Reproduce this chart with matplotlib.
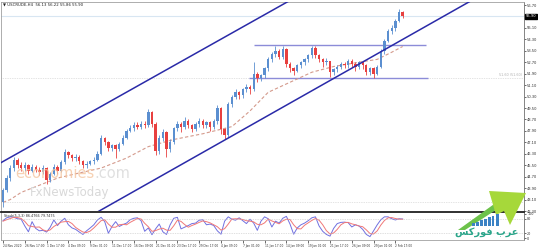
import numpy as np
import matplotlib
matplotlib.use("Agg")
import matplotlib.pyplot as plt
from matplotlib.patches import Polygon, Rectangle

# USCRUDE H4 candles (one candle here ~ 2.7 bars of the original)
opens = [42.9, 43.8, 44.6, 45.3, 45.9, 45.5, 45.3, 45.5, 45.1, 45.4,
         45.2, 45.0, 45.3, 44.5, 44.9, 45.4, 45.1, 45.7, 46.4, 46.2,
         46.0, 46.1, 45.8, 45.5, 45.6, 45.8, 45.9, 46.3, 47.4, 47.1,
         46.7, 46.9, 46.6, 47.0, 47.4, 47.9, 48.1, 48.3, 48.2, 48.4,
         48.3, 49.2, 48.4, 46.5, 47.4, 47.8, 46.6, 47.1, 48.1, 48.4,
         48.2, 48.6, 48.3, 48.0, 48.4, 48.6, 48.3, 48.5, 48.2, 48.6,
         49.5, 48.0, 47.6, 49.8, 50.3, 50.6, 50.4, 50.8, 51.0, 50.8,
         51.9, 51.6, 51.8, 52.3, 52.9, 53.3, 53.5, 53.1, 53.6, 52.6,
         52.3, 52.1, 52.5, 52.7, 52.9, 53.2, 53.7, 53.2, 52.9, 52.7,
         52.8, 52.0, 52.2, 52.4, 52.6, 52.5, 52.8, 52.6, 52.4, 52.7,
         52.5, 52.0, 52.3, 51.9, 52.4, 53.5, 54.2, 54.9, 55.1, 55.6, 56.2]
highs = [43.9, 44.8, 45.5, 46.1, 46.0, 45.7, 45.7, 45.6, 45.6, 45.5,
         45.4, 45.5, 45.4, 45.0, 45.6, 45.5, 45.9, 46.6, 46.5, 46.3,
         46.3, 46.2, 45.9, 45.8, 45.9, 46.1, 46.5, 47.6, 47.5, 47.2,
         47.0, 47.0, 47.1, 47.6, 48.0, 48.3, 48.5, 48.5, 48.6, 48.6,
         49.4, 49.3, 48.5, 47.6, 48.0, 47.9, 47.3, 48.2, 48.6, 48.5,
         48.9, 48.7, 48.4, 48.5, 48.8, 48.7, 48.6, 48.6, 48.7, 49.7,
         49.6, 48.1, 49.9, 50.4, 50.8, 50.7, 50.9, 51.2, 51.1, 52.7,
         52.0, 51.9, 52.4, 53.1, 53.4, 53.8, 53.6, 53.8, 53.7, 52.7,
         52.4, 52.6, 52.8, 53.0, 53.3, 53.8, 53.8, 53.3, 53.0, 53.0,
         52.8, 52.3, 52.5, 52.7, 52.7, 52.9, 52.9, 52.7, 52.8, 52.8,
         52.6, 52.4, 52.4, 52.5, 53.6, 54.3, 55.0, 55.3, 55.7, 56.4, 56.3]
lows = [42.6, 43.6, 44.4, 45.1, 45.3, 45.1, 45.1, 44.9, 45.0, 45.0,
        44.8, 44.9, 44.2, 44.3, 44.8, 44.9, 45.0, 45.6, 46.0, 45.8,
        45.8, 45.6, 45.3, 45.3, 45.5, 45.6, 45.8, 46.2, 46.9, 46.5,
        46.5, 46.0, 46.5, 46.9, 47.3, 47.8, 47.9, 48.0, 48.0, 48.1,
        48.2, 48.2, 46.2, 46.3, 47.2, 46.1, 46.4, 47.0, 47.9, 47.8,
        48.0, 48.1, 47.8, 47.9, 48.2, 48.1, 48.1, 47.9, 48.0, 48.4,
        47.7, 47.3, 47.5, 49.6, 50.1, 50.1, 50.2, 50.6, 50.5, 50.7,
        51.3, 51.4, 51.6, 52.1, 52.7, 53.1, 52.9, 52.9, 52.4, 52.0,
        51.8, 52.0, 52.3, 52.5, 52.7, 53.0, 53.0, 52.7, 52.4, 52.5,
        51.65, 51.8, 52.0, 52.2, 52.3, 52.3, 52.4, 52.1, 52.2, 52.2,
        51.8, 51.8, 51.6, 51.8, 52.3, 53.3, 54.1, 54.7, 54.9, 55.5, 55.8]
closes = [43.8, 44.6, 45.3, 45.9, 45.5, 45.3, 45.5, 45.1, 45.4, 45.2,
          45.0, 45.3, 44.5, 44.9, 45.4, 45.1, 45.7, 46.4, 46.2, 46.0,
          46.1, 45.8, 45.5, 45.6, 45.8, 45.9, 46.3, 47.4, 47.1, 46.7,
          46.9, 46.6, 47.0, 47.4, 47.9, 48.1, 48.3, 48.2, 48.4, 48.3,
          49.2, 48.4, 46.5, 47.4, 47.8, 46.6, 47.1, 48.1, 48.4, 48.2,
          48.6, 48.3, 48.0, 48.4, 48.6, 48.3, 48.5, 48.2, 48.6, 49.5,
          48.0, 47.6, 49.8, 50.3, 50.6, 50.4, 50.8, 51.0, 50.8, 51.9,
          51.6, 51.8, 52.3, 52.9, 53.3, 53.5, 53.1, 53.6, 52.6, 52.3,
          52.1, 52.5, 52.7, 52.9, 53.2, 53.7, 53.2, 52.9, 52.7, 52.8,
          52.0, 52.2, 52.4, 52.6, 52.5, 52.8, 52.6, 52.4, 52.7, 52.5,
          52.0, 52.3, 51.9, 52.4, 53.5, 54.2, 54.9, 55.1, 55.6, 56.2, 55.9]

# dashed moving average (candle index, price)
ma_idx = [0, 2, 5, 10, 15, 20, 27, 34, 40, 47, 55, 63, 68, 73, 79, 85, 91, 98, 103, 107, 110]
ma_val = [42.9, 43.1, 43.6, 44.1, 44.6, 44.9, 45.3, 46.0, 46.8, 47.3, 47.7, 48.2,
          49.3, 50.6, 51.3, 52.0, 52.4, 52.7, 52.9, 53.4, 53.8]

# Stochastic(5,3,3) main / signal
stoch_k = [72, 84, 88, 86, 80, 78, 50, 26, 68, 40,
           30, 32, 25, 45, 75, 52, 70, 82, 55, 42,
           36, 25, 15, 30, 42, 55, 75, 86, 68, 20,
           48, 68, 48, 56, 62, 76, 82, 84, 72, 28,
           42, 14, 38, 58, 26, 15, 55, 82, 86, 38,
           45, 52, 60, 62, 74, 76, 55, 58, 52, 30,
           16, 70, 88, 78, 74, 84, 72, 60, 78, 62,
           32, 70, 88, 80, 46, 70, 62, 82, 90, 58,
           16, 42, 55, 62, 72, 84, 88, 50, 28, 15,
           8, 40, 60, 65, 66, 64, 46, 55, 50, 36,
           15, 6, 30, 55, 76, 88, 88, 80, 75, 80, 79]
stoch_d = [70, 76, 81, 86, 85, 81, 69, 51, 48, 45,
           46, 34, 29, 34, 48, 57, 66, 68, 69, 60,
           44, 34, 25, 23, 29, 42, 57, 72, 76, 58,
           45, 45, 55, 57, 55, 65, 73, 81, 79, 61,
           47, 28, 31, 37, 41, 33, 32, 51, 74, 69,
           56, 45, 52, 58, 65, 71, 68, 63, 55, 47,
           33, 39, 58, 79, 80, 79, 77, 72, 70, 67,
           57, 55, 63, 79, 71, 65, 59, 71, 78, 77,
           55, 39, 38, 53, 63, 73, 81, 74, 55, 31,
           17, 21, 36, 55, 64, 65, 59, 55, 50, 47,
           34, 19, 17, 30, 54, 73, 84, 85, 81, 78, 78]

time_labels = ["24 Nov 2020", "26 Nov 17:00", "1 Dec 17:00", "4 Dec 09:00", "9 Dec 01:00",
               "11 Dec 17:00", "16 Dec 09:00", "21 Dec 01:00", "23 Dec 17:00", "29 Dec 17:00",
               "4 Jan 09:00", "7 Jan 01:00", "11 Jan 17:00", "14 Jan 09:00", "19 Jan 01:00",
               "21 Jan 17:00", "26 Jan 09:00", "29 Jan 01:00", "2 Feb 17:00"]
time_label_idx = [0, 6, 12, 18, 24, 30, 36, 42, 48, 54, 60, 66, 72, 78, 84, 90, 96, 102, 108]

price_ticks = [56.70, 55.10, 54.30, 53.50, 52.70, 51.90, 51.10, 50.30, 49.50, 48.70,
               47.90, 47.10, 46.30, 45.50, 44.70, 43.90, 43.10, 42.30]

# drawn objects: channel, horizontal levels
upper_channel = ([-0.55, 79.2], [45.68, 57.05])
lower_channel = ([26.2, 129.2], [42.26, 57.05])
resist_level, resist_span = 53.91, (69.0, 116.4)
support_level, support_span = 51.60, (67.8, 117.0)
bottom_level = 42.95
last_price = 55.90

W, H = 538, 250


def px_box(x0, y0, x1, y1):
    return [x0 / W, 1 - y1 / H, (x1 - x0) / W, (y1 - y0) / H]


def fig_pt(x, y):
    return (x / W, 1 - y / H)


fig = plt.figure(figsize=(W / 100, H / 100), dpi=100)
ax = fig.add_axes(px_box(1, 2, 524, 211))
axs = fig.add_axes(px_box(1, 212, 524, 240), sharex=ax)

UP = "#5b8fd0"
DOWN = "#e8403f"
o = np.array(opens)
c = np.array(closes)
h = np.array(highs)
l = np.array(lows)
idx = np.arange(len(c))
colors = np.where(c >= o, UP, DOWN)
ax.vlines(idx, l, h, colors=colors, lw=0.6, zorder=4)
ax.bar(idx, np.maximum(np.abs(c - o), 0.04), bottom=np.minimum(o, c), width=0.65,
       color=colors, lw=0, zorder=5)

ax.plot(ma_idx, ma_val, color="#d49a8c", lw=0.8, ls=(0, (3, 2)), zorder=3)

chan_col = "#2a2aa8"
ax.plot(*upper_channel, color=chan_col, lw=1.1, zorder=6)
ax.plot(*lower_channel, color=chan_col, lw=1.1, zorder=6)
ax.hlines(resist_level, *resist_span, color="#8c8cd8", lw=1.0, zorder=2)
ax.hlines(support_level, *support_span, color="#8c8cd8", lw=1.0, zorder=2)
ax.axhline(support_level, color="#c8c8c8", lw=0.5, ls=(0, (1, 1.5)), zorder=1)
ax.axhline(bottom_level, color="#c8c8c8", lw=0.5, ls=(0, (1, 1.5)), zorder=1)
ax.axhline(last_price, color="#d8e6f2", lw=0.8, zorder=1)
ax.text(142.8, support_level + 0.06, "51.60 (51.60)", fontsize=2.4, color="#b0b0b0",
        ha="right", va="bottom")

ax.set_xlim(-0.55, 143.4)
ax.set_ylim(42.33, 56.91)
ax.yaxis.tick_right()
ax.set_yticks(price_ticks)
ax.set_yticklabels([f"{v:.2f}" for v in price_ticks])
ax.tick_params(axis="y", labelsize=2.6, length=1.5, width=0.5, pad=0.8, colors="#303030")
ax.tick_params(axis="x", bottom=False, labelbottom=False)
for s in ax.spines.values():
    s.set_color("#a0a0a0")
    s.set_linewidth(0.6)
ax.spines["right"].set_color("#707070")
ax.spines["bottom"].set_visible(False)

ax.text(1.003, last_price, f"{last_price:.2f}", transform=ax.get_yaxis_transform(),
        fontsize=2.6, color="white", va="center", ha="left",
        bbox=dict(boxstyle="square,pad=0.2", fc="black", ec="black"))

# stochastic sub-window
axs.plot(idx, stoch_k, color="#7070e0", lw=0.7)
axs.plot(idx, stoch_d, color="#f07878", lw=0.7)
axs.axhline(80, color="#c0c0c0", lw=0.5, ls=(0, (1, 1.5)))
axs.axhline(20, color="#c0c0c0", lw=0.5, ls=(0, (1, 1.5)))
axs.set_ylim(-8, 108)
axs.yaxis.tick_right()
axs.set_yticks([100, 80, 20, 0])
axs.tick_params(axis="y", labelsize=2.4, length=1.5, width=0.5, pad=0.8, colors="#303030")
axs.set_xticks(time_label_idx)
axs.set_xticklabels(time_labels)
axs.tick_params(axis="x", labelsize=2.1, length=2, width=0.5, pad=1, colors="#303030")
for lab in axs.get_xticklabels():
    lab.set_ha("left")
for s in axs.spines.values():
    s.set_color("#a0a0a0")
    s.set_linewidth(0.6)
axs.spines["right"].set_color("#707070")
axs.spines["top"].set_color("#202020")
axs.spines["top"].set_linewidth(1.3)
axs.text(0.005, 0.93, "Stoch(5,3,3) 86.4766 79.7475", transform=axs.transAxes,
         fontsize=2.4, color="#303030", va="top")

fig.text(3 / W, 1 - 5 / H, "\u25BC USCRUDE,H4  56.13 56.22 55.86 55.90", fontsize=2.8,
         color="#202020", va="center")

# watermarks
t1 = fig.text(15 / W, 1 - 178.5 / H, "economies", fontsize=10.5, color="#f5c6a0",
              alpha=0.8, va="baseline", zorder=0)
ax.annotate(".com", xy=(1, 0), xycoords=t1, fontsize=10.5, color="#d8d8d8",
            alpha=0.8, va="bottom", ha="left", annotation_clip=False)
fig.text(30 / W, 1 - 196 / H, "FxNewsToday", fontsize=8.5, color="#d2d2d2",
         alpha=0.85, va="baseline")

# arab forex logo
shaft = [fig_pt(*p) for p in [(458, 230), (465, 230), (502, 206), (497, 202)]]
fig.add_artist(Polygon(shaft, closed=True, transform=fig.transFigure,
                       fc="#6cc24a", ec="none"))
head = [fig_pt(*p) for p in [(489, 191), (526, 193), (510, 225), (504, 211), (496, 215)]]
fig.add_artist(Polygon(head, closed=True, transform=fig.transFigure,
                       fc="#a6d83a", ec="none"))
for k in range(7):
    bx, by = fig_pt(472 + 4 * k, 226)
    fig.add_artist(Rectangle((bx, by), 2.5 / W, (3 + 1.5 * k) / H,
                             transform=fig.transFigure, fc="#3b82c4", ec="none"))
logo_text = "\uFEB2\uFEDB\uFEAD\uFEEE\uFED3 \uFE8F\uFEAE\uFECB"
fig.text(*fig_pt(487, 232), logo_text, fontsize=7, color="#2aa58a", fontweight="bold",
         ha="center", va="center")

fig.savefig("out.png", dpi=100)
